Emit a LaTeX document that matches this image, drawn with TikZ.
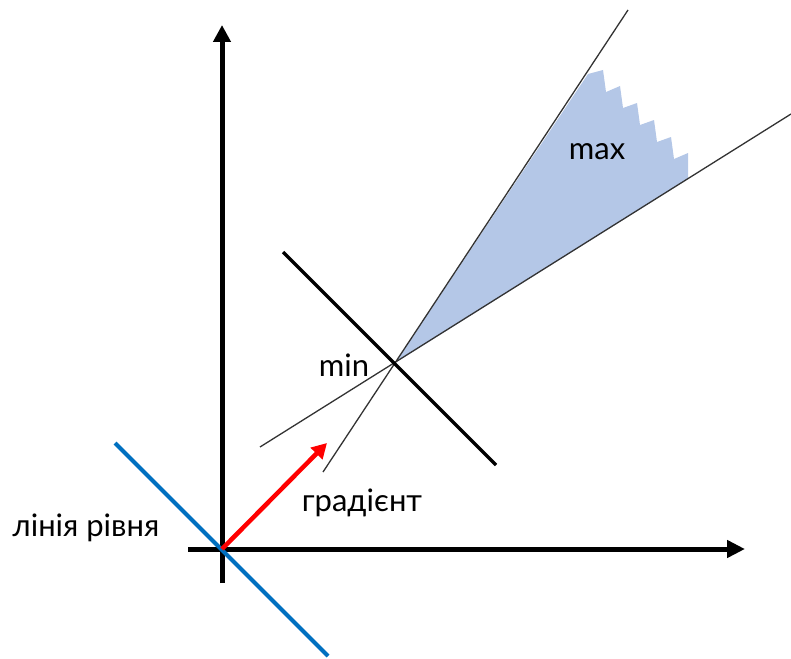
\documentclass[tikz,border=0pt]{standalone}
\usepackage{fontspec}
\setmainfont{Lato}
\usetikzlibrary{arrows.meta}

\definecolor{livello}{HTML}{0070C0}
\definecolor{ombra}{HTML}{B4C7E7}

\begin{document}
\begin{tikzpicture}[x=1pt,y=-1pt,
        asse/.style={line width=5pt},
        sottile/.style={line width=1.3pt, black!80},
        etichetta/.style={font=\fontsize{31}{36}\selectfont, inner sep=0pt}]

        % Area del disegno (791 x 658)
        \useasboundingbox (0,0) rectangle (791,658);

        % Punti principali
        \coordinate (O) at (222,549);
        \coordinate (yBot) at (222,583);
        \coordinate (yTop) at (222,25);
        \coordinate (xLeft) at (188,549);
        \coordinate (xRight) at (745,549);
        \coordinate (M) at (395,363);

        % Zona ammissibile (ombreggiata, bordo seghettato)
        \fill[ombra] (M) -- (588,74) -- (603,70) -- (606,92) -- (620,86)
            -- (623,108) -- (637,103) -- (640,125) -- (654,120) -- (657,142)
            -- (671,137) -- (674,159) -- (688,153) -- (688,179) -- cycle;

        % Rette sottili dal punto di minimo
        \coordinate (r1a) at (260,447);
        \coordinate (r1b) at (791,114);
        \coordinate (r2a) at (323,472);
        \coordinate (r2b) at (628,10);
        \draw[sottile] (r1a) -- (r1b);
        \draw[sottile] (r2a) -- (r2b);

        % Retta di livello nel minimo
        \coordinate (lA) at (283,252);
        \coordinate (lB) at (496,465);
        \draw[line width=3.5pt] (lA) -- (lB);

        % Assi
        \draw[asse, -{Triangle[length=17pt,width=17pt]}] (yBot) -- (yTop);
        \draw[asse, -{Triangle[length=18pt,width=17pt]}] (xLeft) -- (xRight);

        % Linea di livello (blu) e gradiente (rosso)
        \coordinate (bA) at (115,443);
        \coordinate (bB) at (328,656);
        \draw[livello, line width=4pt] (bA) -- (bB);
        \coordinate (G) at (327,443);
        \draw[red, line width=4.5pt, -{Triangle[length=15pt,width=16pt]}] (O) -- (G);

        % Testi
        \node[etichetta] (tmax) at (597,152) {max};
        \node[etichetta] (tmin) at (344,365) {min};
        \node[etichetta] (tgrad) at (362,503) {градієнт};
        \node[etichetta] (tliv) at (86,528) {лінія рівня};

    \end{tikzpicture}
\end{document}
